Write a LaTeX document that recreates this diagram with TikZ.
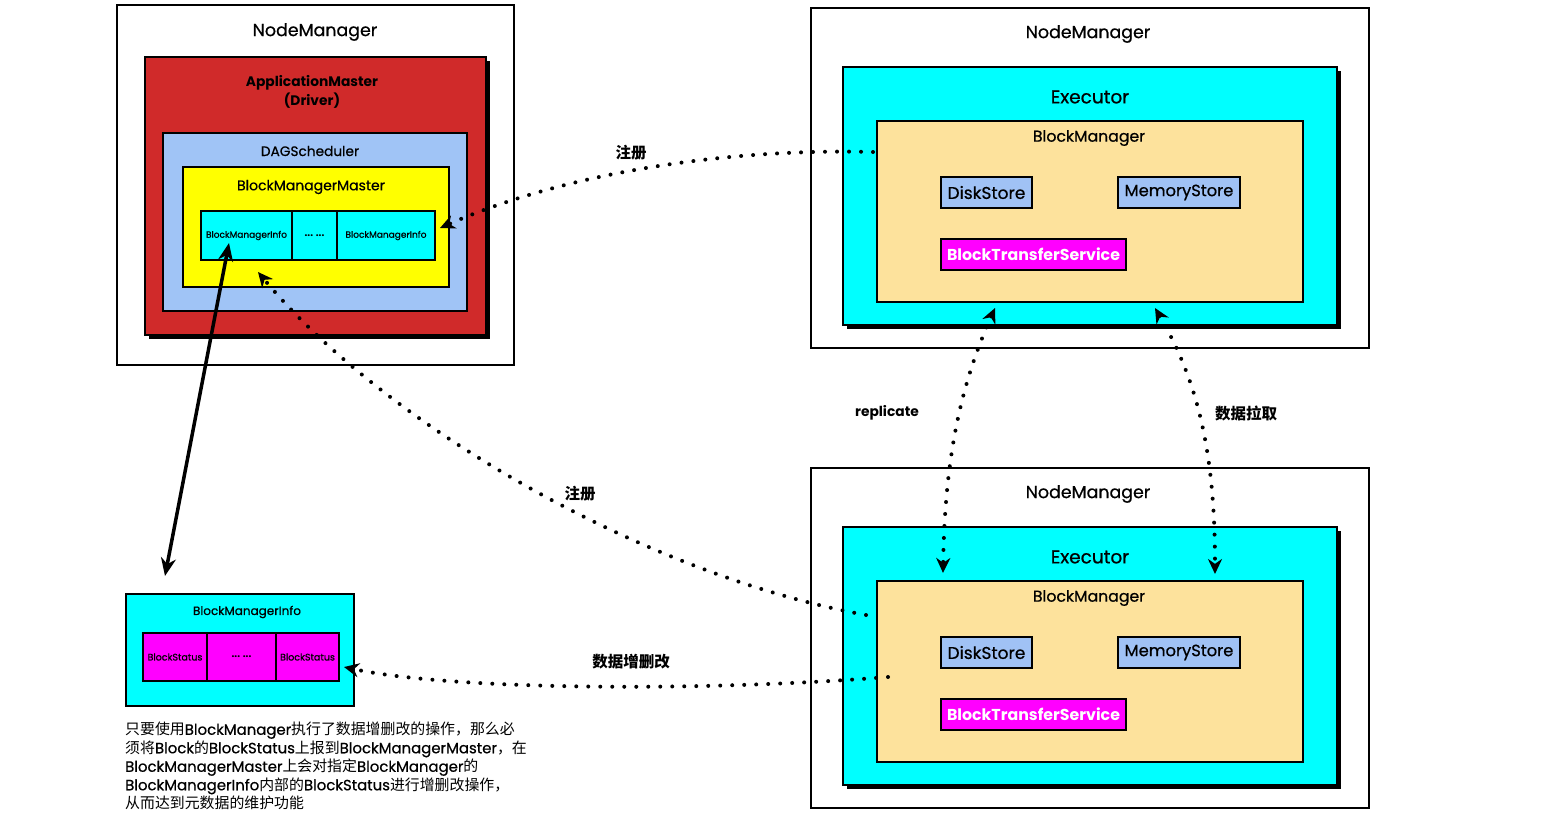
\documentclass[tikz,border=0pt]{standalone}
\usepackage{fontspec}
\setmainfont{Poppins}[UprightFeatures={FakeBold=0.6}]
\newfontfamily\cjk{Noto Sans CJK SC}
\usetikzlibrary{arrows.meta,shadows}
\definecolor{amred}{RGB}{208,42,42}
\definecolor{dagblue}{RGB}{160,196,246}
\definecolor{bmyellow}{RGB}{255,255,0}
\definecolor{excyan}{RGB}{0,255,255}
\definecolor{bmtan}{RGB}{253,226,156}
\definecolor{stblue}{RGB}{160,194,245}
\definecolor{mag}{RGB}{255,0,255}
\newcommand{\zh}[1]{{\cjk #1}}
\begin{document}
\begin{tikzpicture}[x=1pt,y=-1pt,
  outer/.style={draw=black, line width=1.5pt, fill=white, inner sep=0pt},
  box/.style={draw=black, line width=2pt, inner sep=0pt},
  shad/.style={drop shadow={shadow xshift=4pt, shadow yshift=-4pt, fill=black, opacity=1}},
  lbl/.style={inner sep=0pt, text=black},
  dotline/.style={line width=4pt, dash pattern=on 0pt off 12pt, line cap=round},
  tip/.style={-{Stealth[length=15pt,width=14pt]}},
  dtip/.style={{Stealth[length=15pt,width=14pt]}-{Stealth[length=15pt,width=14pt]}},
  cjklbl/.style={inner sep=0pt, font=\cjk\bfseries\fontsize{15.5}{17}\selectfont}
]
\useasboundingbox (0,0) rectangle (1564,817);

% ---------- left NodeManager ----------
\node[outer, minimum width=397pt, minimum height=360pt] (nm1) at (315.5,185) {};
\node[lbl, font=\fontsize{17.4}{20}\selectfont] (nm1t) at (315,32) {NodeManager};
\node[box, shad, fill=amred, minimum width=341pt, minimum height=278pt] (am) at (315.5,196) {};
\node[lbl, align=center, font=\bfseries\fontsize{13.8}{18.5}\selectfont] (amt) at (312,92) {ApplicationMaster\\(Driver)};
\node[box, fill=dagblue, minimum width=304pt, minimum height=178pt] (dag) at (315,222) {};
\node[lbl, font=\fontsize{13.7}{15}\selectfont] (dagt) at (310,151) {DAGScheduler};
\node[box, fill=bmyellow, minimum width=266pt, minimum height=120pt] (bmm) at (316,227) {};
\node[lbl, font=\fontsize{14}{16}\selectfont] (bmmt) at (311,187) {BlockManagerMaster};
\node[box, fill=excyan, minimum width=91pt, minimum height=49pt, font=\fontsize{9}{10}\selectfont] (c1) at (246.5,235.5) {BlockManagerInfo};
\node[box, fill=excyan, minimum width=45pt, minimum height=49pt, font=\bfseries\fontsize{10}{10}\selectfont] (c2) at (314.5,235.5) {... ...};
\node[box, fill=excyan, minimum width=98pt, minimum height=49pt, font=\fontsize{9}{10}\selectfont] (c3) at (386,235.5) {BlockManagerInfo};

% ---------- top right NodeManager ----------
\node[outer, minimum width=558pt, minimum height=340pt] (nm2) at (1090,178) {};
\node[lbl, font=\fontsize{17.4}{20}\selectfont] (nm2t) at (1088,34) {NodeManager};
\node[box, shad, fill=excyan, minimum width=494pt, minimum height=258pt] (ex2) at (1090,196) {};
\node[lbl, font=\fontsize{18.5}{20}\selectfont] (ex2t) at (1090,97) {Executor};
\node[box, fill=bmtan, minimum width=426pt, minimum height=181pt] (bm2) at (1090,211.5) {};
\node[lbl, font=\fontsize{15.7}{18}\selectfont] (bm2t) at (1089,138) {BlockManager};
\node[box, fill=stblue, minimum width=91pt, minimum height=31pt, font=\fontsize{17}{18}\selectfont] (ds2) at (986.5,192.5) {DiskStore};
\node[box, fill=stblue, minimum width=122pt, minimum height=31pt, font=\fontsize{16.3}{18}\selectfont] (ms2) at (1179,192.5) {MemoryStore};
\node[box, fill=mag, text=white, minimum width=185pt, minimum height=31pt, font=\bfseries\fontsize{15.8}{18}\selectfont] (bts2) at (1033.5,254.5) {BlockTransferService};

% ---------- bottom right NodeManager ----------
\node[outer, minimum width=558pt, minimum height=340pt] (nm3) at (1090,638) {};
\node[lbl, font=\fontsize{17.4}{20}\selectfont] (nm3t) at (1088,494) {NodeManager};
\node[box, shad, fill=excyan, minimum width=494pt, minimum height=258pt] (ex3) at (1090,656) {};
\node[lbl, font=\fontsize{18.5}{20}\selectfont] (ex3t) at (1090,557) {Executor};
\node[box, fill=bmtan, minimum width=426pt, minimum height=181pt] (bm3) at (1090,671.5) {};
\node[lbl, font=\fontsize{15.7}{18}\selectfont] (bm3t) at (1089,598) {BlockManager};
\node[box, fill=stblue, minimum width=91pt, minimum height=31pt, font=\fontsize{17}{18}\selectfont] (ds3) at (986.5,652.5) {DiskStore};
\node[box, fill=stblue, minimum width=122pt, minimum height=31pt, font=\fontsize{16.3}{18}\selectfont] (ms3) at (1179,652.5) {MemoryStore};
\node[box, fill=mag, text=white, minimum width=185pt, minimum height=31pt, font=\bfseries\fontsize{15.8}{18}\selectfont] (bts3) at (1033.5,714.5) {BlockTransferService};

% ---------- bottom left BlockManagerInfo ----------
\node[box, fill=excyan, minimum width=228pt, minimum height=112pt] (bmi) at (240,650) {};
\node[lbl, font=\fontsize{12}{14}\selectfont] (bmit) at (247,612) {BlockManagerInfo};
\node[box, line width=2.5pt, fill=mag, minimum width=64pt, minimum height=48pt, font=\fontsize{9.5}{10}\selectfont] (s1) at (175,657) {BlockStatus};
\node[box, line width=2.5pt, fill=mag, minimum width=69pt, minimum height=48pt, font=\bfseries\fontsize{10}{10}\selectfont] (s2) at (241.5,657) {... ...};
\node[box, line width=2.5pt, fill=mag, minimum width=63pt, minimum height=48pt, font=\fontsize{9.5}{10}\selectfont] (s3) at (307.5,657) {BlockStatus};

\node[lbl, anchor=north west, align=left, font=\fontsize{14.9}{18.5}\selectfont] (desc) at (125,722) {%
\zh{只要使用}BlockManager\zh{执行了数据增删改的操作，那么必}\\
\zh{须将}Block\zh{的}BlockStatus\zh{上报到}BlockManagerMaster\zh{，在}\\
BlockManagerMaster\zh{上会对指定}BlockManager\zh{的}\\
BlockManagerInfo\zh{内部的}BlockStatus\zh{进行增删改操作，}\\
\zh{从而达到元数据的维护功能}};

% ---------- connectors ----------
\coordinate (r1s) at (873,152);
\coordinate (r1e) at (440,228);
\draw[dotline, tip] (r1s) .. controls (720,148) and (560,175) .. (r1e);
\node[cjklbl] (r1l) at (631,153) {注册};

\coordinate (r2s) at (866,615);
\coordinate (r2e) at (258,272);
\draw[dotline, tip] (r2s) .. controls (645,575) and (385,425) .. (r2e);
\node[cjklbl] (r2l) at (580,494) {注册};

\coordinate (bmA) at (229,243);
\coordinate (bmB) at (165,576);
\draw[line width=3.5pt, {Stealth[length=18pt,width=15pt]}-{Stealth[length=18pt,width=15pt]}] (bmA) -- (bmB);

\coordinate (repT) at (995,308);
\coordinate (repB) at (943,573);
\draw[dotline, dtip] (repT) .. controls (963,380) and (945,450) .. (repB);
\node[lbl, font=\bfseries\fontsize{13.8}{15}\selectfont] (repl) at (887,413) {replicate};

\coordinate (pullT) at (1155,308);
\coordinate (pullB) at (1215,574);
\draw[dotline, dtip] (pullT) .. controls (1197,380) and (1215,450) .. (pullB);
\node[cjklbl] (pulll) at (1246,414) {数据拉取};

\coordinate (updS) at (888,677);
\coordinate (updE) at (344,667);
\draw[dotline, tip] (updS) .. controls (700,692) and (450,690) .. (updE);
\node[cjklbl] (updl) at (631,662) {数据增删改};
\end{tikzpicture}
\end{document}
